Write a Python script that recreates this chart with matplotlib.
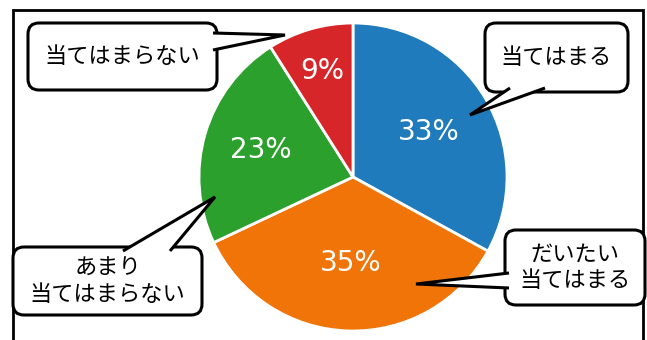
# -*- coding: utf-8 -*-
"""
Pie chart with callout labels.
"""
import matplotlib.pyplot as plt
from matplotlib.patches import FancyBboxPatch, Polygon, Rectangle

plt.rcParams['font.family'] = ['Noto Sans CJK JP', 'DejaVu Sans']

# data
labels = ['当てはまる', 'だいたい\n当てはまる', 'あまり\n当てはまらない', '当てはまらない']
values = [33, 35, 23, 9]
colors = ['#1f7bbc', '#f07408', '#2ca02c', '#d7262a']

W, H = 647, 340
fig = plt.figure(figsize=(W / 100, H / 100), dpi=100)
ax = fig.add_axes([0, 0, 1, 1])

# outer frame
ax.add_patch(Rectangle((13, -20), 630, H - 10 + 20, fill=False,
                       edgecolor='black', linewidth=2, zorder=1))

wedges, texts, autotexts = ax.pie(
    values, colors=colors, startangle=90, counterclock=False,
    center=(353, H - 177), radius=154, autopct='%d%%', pctdistance=0.58,
    wedgeprops=dict(edgecolor='white', linewidth=2),
    textprops=dict(color='white', fontsize=20, family='DejaVu Sans',
                   fontweight='medium'),
    frame=True)
ax.set_xlim(0, W)
ax.set_ylim(0, H)
ax.set_aspect('equal')
ax.axis('off')

# small slice label sits further out
x0, y0 = 353, H - 177
for t, d in zip(autotexts, [0.57, 0.56, 0.62, 0.72]):
    x, y = t.get_position()
    t.set_position((x0 + (x - x0) * d / 0.58, y0 + (y - y0) * d / 0.58))


def callout(text, box, base, tip):
    # box: (left, top, right, bottom) in pixels from top-left
    bx0, by0, bx1, by1 = box
    ax.add_patch(FancyBboxPatch((bx0, H - by1), bx1 - bx0, by1 - by0,
                                boxstyle='round,pad=0,rounding_size=11',
                                facecolor='white', edgecolor='black',
                                linewidth=2.2, zorder=5))
    pts = [(base[0][0], H - base[0][1]), (tip[0], H - tip[1]),
           (base[1][0], H - base[1][1])]
    ax.add_patch(Polygon(pts, closed=False, facecolor='white',
                         edgecolor='black', linewidth=2.2, zorder=6,
                         joinstyle='miter'))
    ax.text((bx0 + bx1) / 2, H - (by0 + by1) / 2, text, ha='center',
            va='center', fontsize=16, linespacing=1.2, zorder=7)


callout(labels[0], (485, 23, 628, 92),
        [(510, 88), (545, 88)], (470, 115))
callout(labels[1], (505, 230, 645, 305),
        [(509, 273), (509, 288)], (416, 284))
callout(labels[2], (13, 247, 202, 315),
        [(123, 251), (170, 251)], (215, 197))
callout(labels[3], (28, 23, 217, 90),
        [(213, 33), (213, 50)], (285, 35))

fig.savefig('out.png', dpi=100)
